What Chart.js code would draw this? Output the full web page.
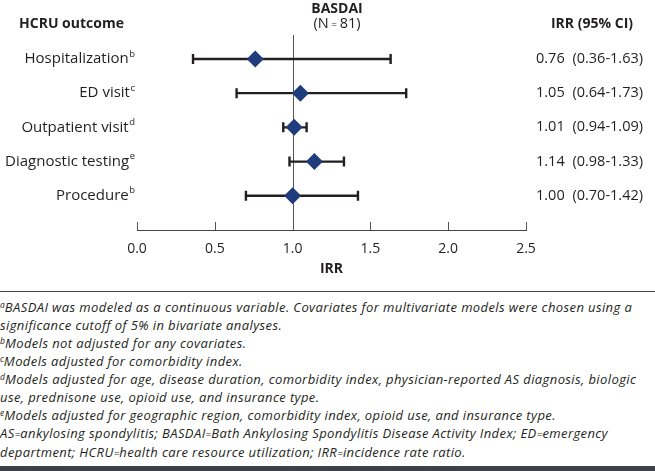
<!DOCTYPE html>
<html>
<head>
<meta charset="utf-8">
<script src="https://cdn.jsdelivr.net/npm/chart.js@4/dist/chart.umd.min.js"></script>
<style>
  html, body { margin: 0; padding: 0; background: #fff; }
  body { width: 655px; height: 471px; position: relative; overflow: hidden; font-family: "Open Sans", sans-serif; color: #231f20; }
  #chart-wrap { position: absolute; left: 0; top: 0; width: 655px; height: 290px; }
  .hdr { position: absolute; font-weight: bold; font-size: 14px; line-height: 16px; white-space: nowrap; }
  .sub { position: absolute; font-size: 14.5px; line-height: 16px; white-space: nowrap; }
  #rule { position: absolute; left: 0; top: 291px; width: 655px; height: 1px; background: #444; }
  #notes { position: absolute; left: 0; top: 298px; font-style: italic; font-size: 13px; line-height: 18px; white-space: nowrap; letter-spacing: 0.4px; }
  #notes sup { font-size: 8.5px; vertical-align: 4px; line-height: 0; letter-spacing: 0; }
  #notes .eq { font-size: 10px; letter-spacing: 0; }
  #footbar { position: absolute; left: 0; top: 466px; width: 655px; height: 5px; background: #3d4148; }
</style>
</head>
<body>
<div id="chart-wrap"><canvas id="forestChart"></canvas></div>

<div class="hdr" style="left:19px; top:15px;">HCRU outcome</div>
<div class="hdr" style="left:287px; width:100px; text-align:center; top:0px;">BASDAI</div>
<div class="sub" style="left:287px; width:100px; text-align:center; top:15px;">(N<span style="font-size:10px;"> = </span>81)</div>
<div class="hdr" style="left:540px; width:104px; text-align:center; top:15px;">IRR (95% CI)</div>

<div id="rule"></div>
<div id="notes">
  <sup>a</sup>BASDAI was modeled as a continuous variable. Covariates for multivariate models were chosen using a<br>
  significance cutoff of 5% in bivariate analyses.<br>
  <sup>b</sup>Models not adjusted for any covariates.<br>
  <sup>c</sup>Models adjusted for comorbidity index.<br>
  <sup>d</sup>Models adjusted for age, disease duration, comorbidity index, physician-reported AS diagnosis, biologic<br>
  use, prednisone use, opioid use, and insurance type.<br>
  <sup>e</sup>Models adjusted for geographic region, comorbidity index, opioid use, and insurance type.<br>
  AS<span class="eq">=</span>ankylosing spondylitis; BASDAI<span class="eq">=</span>Bath Ankylosing Spondylitis Disease Activity Index; ED<span class="eq">=</span>emergency<br>
  department; HCRU<span class="eq">=</span>health care resource utilization; IRR<span class="eq">=</span>incidence rate ratio.
</div>
<div id="footbar"></div>

<script>
// Forest plot data
const outcomes = ['Hospitalization', 'ED visit', 'Outpatient visit', 'Diagnostic testing', 'Procedure'];
const footnoteMarks = ['b', 'c', 'd', 'e', 'b'];
const irrValues = [0.76, 1.05, 1.01, 1.14, 1.00];
const ciLower = [0.36, 0.64, 0.94, 0.98, 0.70];
const ciUpper = [1.63, 1.73, 1.09, 1.33, 1.42];
const xTicks = [0.0, 0.5, 1.0, 1.5, 2.0, 2.5];

const textColor = '#231f20';
const markerColor = '#1f3c7c';
const fontFamily = '"Open Sans", sans-serif';

// Reference line at IRR = 1, error bars, upward tick marks, row texts
const forestPlugin = {
  id: 'forestPlugin',
  beforeDatasetsDraw(chart) {
    const { ctx, chartArea, scales: { x, y } } = chart;
    ctx.save();

    // null line
    const x1 = Math.round(x.getPixelForValue(1.0)) + 0.5;
    ctx.strokeStyle = '#555';
    ctx.lineWidth = 1;
    ctx.beginPath();
    ctx.moveTo(x1, chartArea.top);
    ctx.lineTo(x1, chartArea.bottom);
    ctx.stroke();

    // ticks pointing up from the axis
    xTicks.forEach(v => {
      const px = Math.round(x.getPixelForValue(v)) + 0.5;
      ctx.beginPath();
      ctx.moveTo(px, chartArea.bottom);
      ctx.lineTo(px, chartArea.bottom - 8);
      ctx.stroke();
    });

    // confidence intervals
    ctx.strokeStyle = '#231f20';
    ctx.lineWidth = 2.4;
    outcomes.forEach((name, i) => {
      const py = y.getPixelForValue(i);
      const lo = x.getPixelForValue(ciLower[i]);
      const hi = x.getPixelForValue(ciUpper[i]);
      ctx.beginPath();
      ctx.moveTo(lo, py);
      ctx.lineTo(hi, py);
      ctx.moveTo(lo, py - 5);
      ctx.lineTo(lo, py + 5);
      ctx.moveTo(hi, py - 5);
      ctx.lineTo(hi, py + 5);
      ctx.stroke();
    });
    ctx.restore();
  },
  afterDraw(chart) {
    const { ctx, scales: { y } } = chart;
    ctx.save();
    ctx.fillStyle = textColor;
    ctx.textBaseline = 'middle';
    outcomes.forEach((name, i) => {
      const py = y.getPixelForValue(i);

      // outcome label with superscript footnote mark
      ctx.font = `9.5px ${fontFamily}`;
      ctx.textAlign = 'right';
      const supW = ctx.measureText(footnoteMarks[i]).width;
      ctx.fillText(footnoteMarks[i], 135, py - 5);
      ctx.font = `15px ${fontFamily}`;
      ctx.fillText(name, 135 - supW - 0.5, py);

      // IRR and CI text
      ctx.font = `14.5px ${fontFamily}`;
      ctx.textAlign = 'left';
      ctx.fillText(irrValues[i].toFixed(2), 536, py);
      ctx.textAlign = 'right';
      ctx.fillText(`(${ciLower[i].toFixed(2)}-${ciUpper[i].toFixed(2)})`, 643, py);
    });
    ctx.restore();
  }
};

const ctx = document.getElementById('forestChart').getContext('2d');
new Chart(ctx, {
  type: 'scatter',
  data: {
    datasets: [{
      label: 'IRR',
      data: irrValues.map((v, i) => ({ x: v, y: i })),
      pointStyle: 'rectRot',
      pointRadius: 8.5,
      pointHoverRadius: 8.5,
      backgroundColor: markerColor,
      borderColor: markerColor,
      borderWidth: 0,
      clip: false
    }]
  },
  options: {
    responsive: true,
    maintainAspectRatio: false,
    animation: false,
    layout: { padding: { left: 137, right: 129, top: 35, bottom: 0 } },
    plugins: {
      legend: { display: false },
      tooltip: { enabled: false }
    },
    scales: {
      x: {
        type: 'linear',
        min: 0,
        max: 2.5,
        afterBuildTicks: axis => { axis.ticks = xTicks.map(v => ({ value: v })); },
        afterFit: axis => { axis.height = 60; },
        grid: { display: false, drawTicks: false },
        border: { display: true, color: '#444', width: 1 },
        ticks: {
          color: textColor,
          font: { family: fontFamily, size: 14 },
          padding: 11,
          callback: v => Number(v).toFixed(1)
        },
        title: {
          display: true,
          text: 'IRR',
          color: textColor,
          font: { family: fontFamily, size: 14, weight: 'bold' },
          padding: { top: 0, bottom: 13 }
        }
      },
      y: {
        type: 'linear',
        min: -0.7,
        max: 5.0,
        reverse: true,
        display: false
      }
    }
  },
  plugins: [forestPlugin]
});
</script>
</body>
</html>
